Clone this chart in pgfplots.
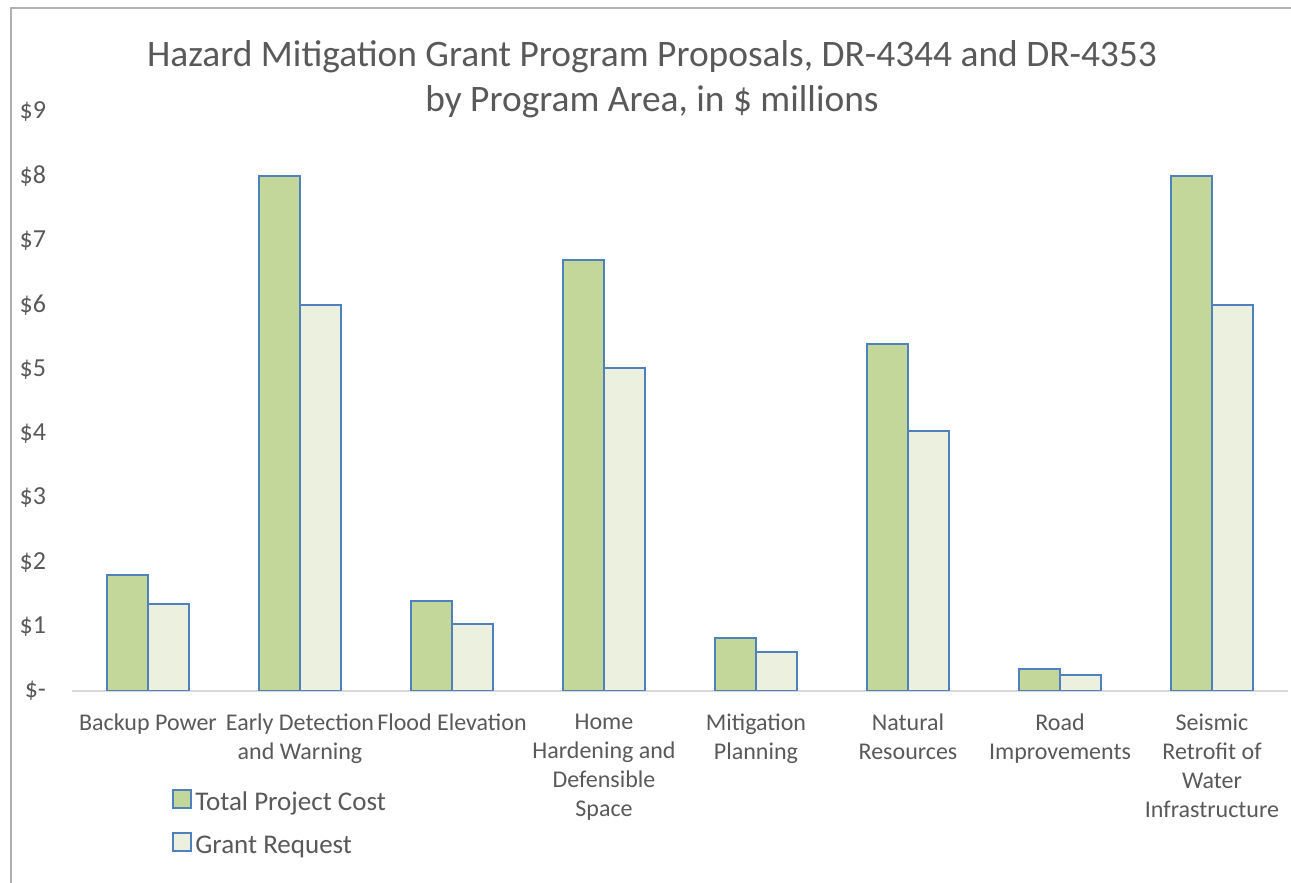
\documentclass[border=0pt]{standalone}
\usepackage{pgfplots}
\pgfplotsset{compat=1.18}
\usepackage{fontspec}
\setmainfont{Carlito}
\definecolor{txt}{HTML}{595959}
\definecolor{barline}{HTML}{4F81BD}
\definecolor{totalc}{HTML}{C4D79B}
\definecolor{grantc}{HTML}{EBF1DE}
\definecolor{axisc}{HTML}{D9D9D9}
\definecolor{framec}{HTML}{B0B0B0}

\begin{document}
\begin{tikzpicture}
\useasboundingbox (0,0) rectangle (645.5pt,441.5pt);
% chart frame (only left and top edges are in view)
\draw[framec, line width=1pt] (5.5pt,0) -- (5.5pt,437.5pt) -- (645.5pt,437.5pt);
\node[txt, font=\fontsize{18.7}{22.5}\selectfont, align=center] at (326pt,401.75pt)
  {Hazard Mitigation Grant Program Proposals, DR-4344 and DR-4353\\by Program Area, in \$ millions};
\begin{axis}[
    at={(36pt,96pt)}, anchor=south west,
    scale only axis,
    width=608pt, height=289.5pt,
    xmin=-0.5, xmax=7.5,
    ymin=0, ymax=9,
    ytick={0,1,...,9},
    yticklabels={\$-,\$1,\$2,\$3,\$4,\$5,\$6,\$7,\$8,\$9},
    xtick={0,...,7},
    xticklabels={Backup Power, Early Detection\\and Warning, Flood Elevation,
      Home\\Hardening and\\Defensible\\Space, Mitigation\\Planning,
      Natural\\Resources, Road\\Improvements,
      Seismic\\Retrofit of\\Water\\Infrastructure},
    axis lines*=left,
    axis line style={-},
    x axis line style={draw=axisc, line width=1pt},
    y axis line style={draw=none},
    major tick length=0pt,
    tick label style={txt},
    xticklabel style={align=center, yshift=-8pt, font=\fontsize{12}{14.5}\selectfont},
    yticklabel style={anchor=east, xshift=-9.5pt, font=\fontsize{13}{15}\selectfont},
    ybar=0pt,
    bar width=0.27,
    legend style={at={(0.0822,-0.168)}, anchor=north west, draw=none,
      font=\fontsize{13.5}{15}\selectfont, text=txt,
      row sep=7.5pt, inner sep=0pt,
      nodes={inner sep=0pt, text depth=3pt, text height=9pt},
      /tikz/every odd column/.append style={column sep=1.5pt}},
    legend cell align=left,
    legend image code/.code={\draw[#1] (0pt,-1.5pt) rectangle (9pt,7.5pt);},
  ]
\addplot[fill=totalc, draw=barline, line width=1pt] coordinates {
  (0,1.80) (1,8.00) (2,1.40) (3,6.70) (4,0.82) (5,5.40) (6,0.34) (7,8.00)};
\addplot[fill=grantc, draw=barline, line width=1pt] coordinates {
  (0,1.35) (1,6.00) (2,1.04) (3,5.02) (4,0.61) (5,4.04) (6,0.25) (7,6.00)};
\legend{Total Project Cost, Grant Request}
\end{axis}
\end{tikzpicture}
\end{document}
